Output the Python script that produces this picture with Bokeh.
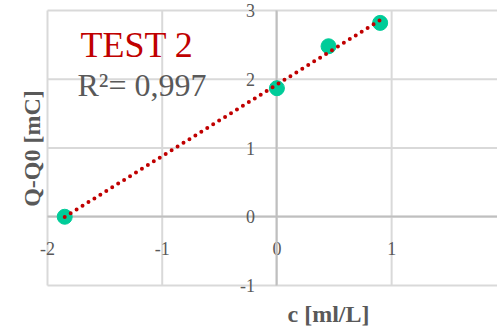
import numpy as np
from bokeh.plotting import figure
from bokeh.models import (LinearAxis, FixedTicker, Range1d, Label, PrintfTickFormatter)
from bokeh.embed import file_html
from bokeh.resources import INLINE

# data
c_values = [-1.85, 0.0, 0.45, 0.90]
q_values = [0.0, 1.87, 2.48, 2.82]
x_ticks = [-2, -1, 0, 1, 2]
y_ticks = [-1, 0, 1, 2, 3]
title_text = "TEST 2"
r2_text = "R\u00b2= 0,997"
x_title = "c [ml/L]"
y_title = "Q-Q0 [mC]"

FONT = "Liberation Serif"
GRAY = "#595959"
RED = "#c00000"

p = figure(width=497, height=333, output_backend="svg", toolbar_location=None,
           x_axis_type=None, y_axis_type=None,
           x_range=Range1d(-2.4098, 1.923), y_range=Range1d(-1.698, 3.1455),
           min_border_left=0, min_border_right=0, min_border_top=0,
           min_border_bottom=0)
p.outline_line_color = None
p.background_fill_color = "white"
p.xgrid.visible = False
p.ygrid.visible = False

xmin, xmax = min(x_ticks), max(x_ticks)
ymin, ymax = min(y_ticks), max(y_ticks)

# grid lines limited to the plot area
p.segment(x0=x_ticks, y0=[ymin] * len(x_ticks), x1=x_ticks, y1=[ymax] * len(x_ticks),
          line_color="#d9d9d9", line_width=2, level="underlay")
p.segment(x0=[xmin] * len(y_ticks), y0=y_ticks, x1=[xmax] * len(y_ticks), y1=y_ticks,
          line_color="#d9d9d9", line_width=2, level="underlay")

xt = FixedTicker(ticks=x_ticks)
yt = FixedTicker(ticks=y_ticks)
xaxis = LinearAxis(ticker=xt, fixed_location=0, bounds=(xmin, xmax))
yaxis = LinearAxis(ticker=yt, fixed_location=0, bounds=(ymin, ymax))
for ax in (xaxis, yaxis):
    ax.level = "underlay"
    ax.formatter = PrintfTickFormatter(format="%d")
    ax.axis_line_color = "#bfbfbf"
    ax.axis_line_width = 2
    ax.major_tick_line_color = None
    ax.minor_tick_line_color = None
    ax.major_label_text_font = FONT
    ax.major_label_text_font_size = "18px"
    ax.major_label_text_color = GRAY
xaxis.major_label_standoff = 19
yaxis.major_label_standoff = 16
p.add_layout(xaxis, "below")
p.add_layout(yaxis, "left")

p.scatter(c_values, q_values, size=15, color="#00cc99")

coef = np.polyfit(c_values, q_values, 1)
tx = [min(c_values), max(c_values)]
ty = [coef[0] * v + coef[1] for v in tx]
p.line(tx, ty, line_color=RED, line_width=4, line_dash="0 7", line_cap="round")

# frame fills the canvas; screen y counts from the bottom
p.add_layout(Label(x=80, y=289, x_units="screen", y_units="screen", text=title_text,
                   text_font=FONT, text_font_size="36px", text_color=RED,
                   text_baseline="alphabetic"))
p.add_layout(Label(x=77, y=249, x_units="screen", y_units="screen", text=r2_text,
                   text_font=FONT, text_font_size="32px", text_color=GRAY,
                   text_baseline="alphabetic"))
p.add_layout(Label(x=328, y=20, x_units="screen", y_units="screen", text=x_title,
                   text_font=FONT, text_font_size="24px", text_font_style="bold",
                   text_color=GRAY, text_align="center", text_baseline="middle"))
p.add_layout(Label(x=31, y=185, x_units="screen", y_units="screen", text=y_title,
                   text_font=FONT, text_font_size="24px", text_font_style="bold",
                   text_color=GRAY, text_align="center", text_baseline="middle",
                   angle=np.pi / 2))

open("out.html", "w").write(file_html(p, INLINE))
